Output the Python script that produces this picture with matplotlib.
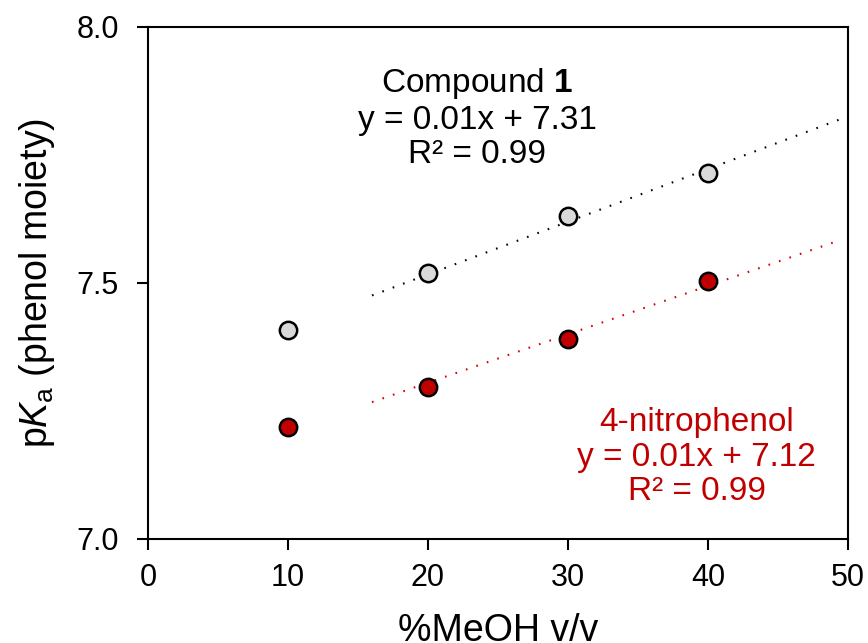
import numpy as np
import matplotlib
matplotlib.use('Agg')
from matplotlib import pyplot as plt

plt.rcParams['font.family'] = ['Liberation Sans', 'DejaVu Sans']
plt.rcParams['mathtext.fontset'] = 'custom'
plt.rcParams['mathtext.rm'] = 'Liberation Sans'
plt.rcParams['mathtext.it'] = 'Liberation Sans:italic'
plt.rcParams['mathtext.bf'] = 'Liberation Sans:bold'

# data
meoh = [10, 20, 30, 40]
pka_compound1 = [7.408, 7.520, 7.631, 7.714]
pka_nitrophenol = [7.219, 7.297, 7.391, 7.503]

label_compound1 = 'Compound $\\mathbf{1}$\ny = 0.01x + 7.31\nR² = 0.99'
label_nitrophenol = '4-nitrophenol\ny = 0.01x + 7.12\nR² = 0.99'

grey = '#d9d9d9'
red = '#c00000'

fig = plt.figure(figsize=(8.68, 6.43), dpi=100)
ax = fig.add_axes([148 / 868, 1 - 539 / 643, 700 / 868, 512 / 643])

# linear trendlines (least squares on all points), extended like excel
for y, x_end, col in [(pka_compound1, 50, 'black'), (pka_nitrophenol, 49, '#d80000')]:
    k, b = np.polyfit(meoh, y, 1)
    xs = np.array([16, x_end])
    ax.plot(xs, k * xs + b, color=col, lw=1.5, dashes=(0.8, 4.5), zorder=2)

ax.plot(meoh, pka_compound1, 'o', ms=12.5, mfc=grey, mec='black', mew=1.8, zorder=3)
ax.plot(meoh, pka_nitrophenol, 'o', ms=12.5, mfc=red, mec='black', mew=1.8, zorder=3)

ax.text(23.5, 7.822, label_compound1, ha='center', va='center', fontsize=24,
        linespacing=1.15, color='black')
ax.text(39.2, 7.16, label_nitrophenol, ha='center', va='center', fontsize=24,
        linespacing=1.15, color=red)

ax.set_xlim(0, 50)
ax.set_ylim(7.0, 8.0)
ax.set_xticks([0, 10, 20, 30, 40, 50])
ax.set_yticks([7.0, 7.5, 8.0])
ax.set_yticklabels(['7.0', '7.5', '8.0'])
ax.tick_params(axis='both', direction='out', length=8, width=1.5, labelsize=22)
ax.tick_params(axis='y', pad=13)
ax.tick_params(axis='x', pad=9)
for s in ax.spines.values():
    s.set_linewidth(1.5)

ax.set_xlabel('%MeOH v/v', fontsize=27, labelpad=15)
ax.set_ylabel('p$\\mathit{K}_\\mathrm{a}$ (phenol moiety)', fontsize=27, labelpad=14)

fig.savefig('out.png', dpi=100)
